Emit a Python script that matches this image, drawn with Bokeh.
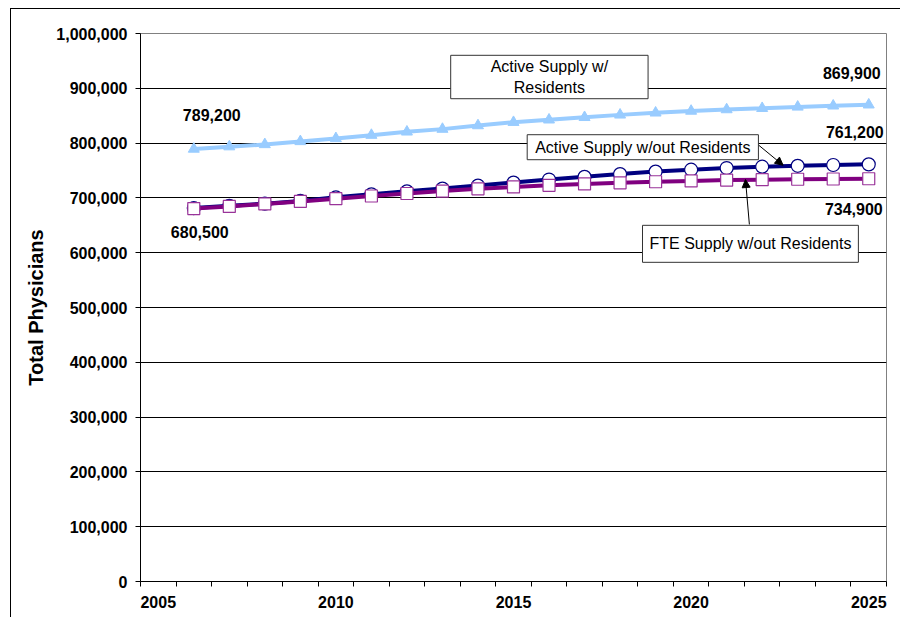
from bokeh.plotting import figure
from bokeh.models import (Range1d, FixedTicker, NumeralTickFormatter, Label, Arrow,
                          NormalHead, ColumnDataSource)
from bokeh.embed import file_html
from bokeh.resources import INLINE

# ---------------- data ----------------
years = list(range(2006, 2026))
active_with_res = [789200, 793500, 797500, 803000, 808500, 814500, 820500, 825500, 832000, 838000,
                   842500, 847000, 851500, 855200, 858500, 861200, 863500, 866000, 868000, 869900]
active_wo_res = [681500, 685500, 689500, 694500, 701000, 706500, 712000, 717000, 722500, 728000,
                 733500, 738500, 743500, 748000, 751500, 754500, 757000, 758500, 760000, 761200]
fte_wo_res = [680500, 684500, 689000, 693500, 698500, 703500, 708000, 712500, 716500, 720000,
              723000, 725500, 727500, 729500, 731000, 732500, 733300, 734000, 734500, 734900]

x_label_years = [2005, 2010, 2015, 2020, 2025]
category_edges = [y - 0.5 for y in range(2005, 2027)]
y_ticks = list(range(0, 1000001, 100000))

# callout annotations (data coordinates)
callout_texts = ["Active Supply w/\nResidents", "Active Supply w/out Residents", "FTE Supply w/out Residents"]
callout_x = [2016.01, 2018.64, 2021.67]
callout_y = [920600, 792500, 616200]
arrow1 = dict(x_start=2021.88, y_start=797400, x_end=2022.59, y_end=759500)
arrow2 = dict(x_start=2021.64, y_start=651500, x_end=2021.53, y_end=733500)

FONT = "Liberation Sans"

p = figure(width=890, height=609, output_backend="svg", toolbar_location=None,
           x_range=Range1d(2004.5, 2025.5), y_range=Range1d(0, 1000000),
           min_border_left=129, min_border_right=15, min_border_top=24, min_border_bottom=37)
p.margin = (8, 0, 0, 10)
p.styles = {"border-left": "1px solid black", "border-top": "1px solid black"}
p.background_fill_color = "white"
p.border_fill_color = "white"
p.outline_line_color = "#808080"
p.outline_line_width = 1

# axes
p.xaxis.ticker = FixedTicker(ticks=x_label_years, minor_ticks=category_edges)
p.xaxis.major_tick_out = 0
p.xaxis.major_tick_in = 0
p.xaxis.minor_tick_out = 5
p.xaxis.minor_tick_in = 0
p.xaxis.minor_tick_line_color = "black"
p.xaxis.axis_line_color = "black"
p.xaxis.major_label_text_font = FONT
p.xaxis.major_label_text_font_style = "bold"
p.xaxis.major_label_text_font_size = "16px"
p.xaxis.major_label_text_color = "black"
p.xaxis.major_label_standoff = 9

p.yaxis.ticker = FixedTicker(ticks=y_ticks)
p.yaxis.formatter = NumeralTickFormatter(format="0,0")
p.yaxis.major_tick_out = 5
p.yaxis.major_tick_in = 0
p.yaxis.minor_tick_out = 0
p.yaxis.minor_tick_in = 0
p.yaxis.axis_line_color = "black"
p.yaxis.major_label_text_font = FONT
p.yaxis.major_label_text_font_style = "bold"
p.yaxis.major_label_text_font_size = "16px"
p.yaxis.major_label_text_color = "black"
p.yaxis.major_label_standoff = 8
p.yaxis.axis_label = "Total Physicians"
p.yaxis.axis_label_text_font = FONT
p.yaxis.axis_label_text_font_style = "bold"
p.yaxis.axis_label_text_font_size = "20px"
p.yaxis.axis_label_text_color = "black"
p.yaxis.axis_label_standoff = 6

p.xgrid.grid_line_color = None
p.ygrid.ticker = FixedTicker(ticks=y_ticks)
p.ygrid.grid_line_color = "black"
p.ygrid.grid_line_width = 1

src = ColumnDataSource(dict(year=years, a=active_with_res, b=active_wo_res, c=fte_wo_res))

# series 1: active supply w/ residents
p.line("year", "a", source=src, line_color="#99CCFF", line_width=4)
p.scatter("year", "a", source=src, marker="triangle", size=11,
          fill_color="#99CCFF", line_color="#99CCFF")
# series 2: active supply w/out residents
p.line("year", "b", source=src, line_color="#000080", line_width=4)
p.scatter("year", "b", source=src, marker="circle", size=13,
          fill_color="white", line_color="#000080", line_width=1.2)
# series 3: FTE supply w/out residents
p.line("year", "c", source=src, line_color="#800080", line_width=4)
p.scatter("year", "c", source=src, marker="square", size=12,
          fill_color="white", line_color="#993399", line_width=1.2)

# value labels
def vlabel(x, y, xo, yo, align):
    p.add_layout(Label(x=x, y=y, x_offset=xo, y_offset=yo, text=f"{y:,.0f}",
                       text_font=FONT, text_font_style="bold", text_font_size="16px",
                       text_color="black", text_align=align, text_baseline="middle"))

vlabel(years[0], active_with_res[0], 18, 34, "center")
vlabel(years[-1], active_with_res[-1], 12, 32, "right")
vlabel(years[-1], active_wo_res[-1], 15, 32, "right")
vlabel(years[-1], fte_wo_res[-1], 14, -30, "right")
vlabel(years[0], fte_wo_res[0], 6, -23, "center")

# arrows
for a in (arrow1, arrow2):
    p.add_layout(Arrow(end=NormalHead(size=8, fill_color="black", line_color="black"),
                       line_color="black", line_width=1, **a))

# callout boxes
paddings = [dict(left=40, right=40, top=3, bottom=3),
            dict(left=8, right=8, top=4, bottom=4),
            dict(left=7, right=7, top=10, bottom=10)]
for t, x, y, pad in zip(callout_texts, callout_x, callout_y, paddings):
    p.add_layout(Label(x=x, y=y, text=t, text_font=FONT, text_font_size="16px",
                       text_color="black", text_align="center", text_baseline="middle",
                       background_fill_color="white", border_line_color="#333333",
                       border_line_width=1, padding=pad))

open("out.html", "w").write(file_html(p, INLINE))
